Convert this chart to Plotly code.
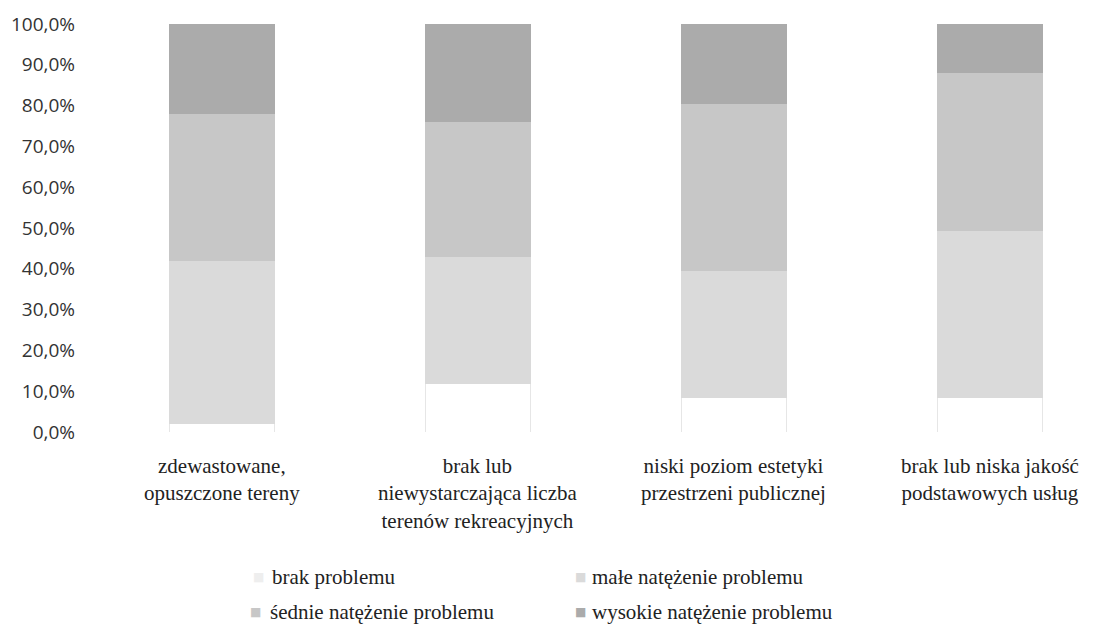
import plotly.graph_objects as go

# Problem categories (x axis) and share of answers per severity level
categories = [
    "zdewastowane,<br>opuszczone tereny",
    "brak lub<br>niewystarczająca liczba<br>terenów rekreacyjnych",
    "niski poziom estetyki<br>przestrzeni publicznej",
    "brak lub niska jakość<br>podstawowych usług",
]
series_names = [
    "brak problemu",
    "małe natężenie problemu",
    "śednie natężenie problemu",
    "wysokie natężenie problemu",
]
brak = [0.02, 0.12, 0.085, 0.085]
male = [0.40, 0.31, 0.31, 0.41]
srednie = [0.36, 0.33, 0.41, 0.385]
wysokie = [0.22, 0.24, 0.195, 0.12]

series_values = [brak, male, srednie, wysokie]
series_colors = ["#ffffff", "#dadada", "#c7c7c7", "#ababab"]
series_lines = ["#e6e6e6", "#dadada", "#c7c7c7", "#ababab"]
key_colors = ["#eeeeee", "#dadada", "#c7c7c7", "#ababab"]

SERIF = "Liberation Serif"
SANS = "Open Sans"

# plot area in pixels (1100 x 632 page)
PL, PR, PT, PB = 94, 1100, 24, 432


def px_to_paper(px, py):
    return (px - PL) / (PR - PL), (PB - py) / (PB - PT)


x_pos = list(range(len(categories)))

fig = go.Figure()
for name, vals, col, lcol in zip(series_names, series_values, series_colors, series_lines):
    fig.add_trace(go.Bar(
        x=x_pos, y=vals, name=name, width=0.41, showlegend=False,
        marker=dict(color=col, line=dict(color=lcol, width=1)),
    ))

# category labels under each bar, placed on the x axis scale
for xp, label in zip(x_pos, categories):
    fig.add_annotation(
        x=xp, xref="x", y=px_to_paper(0, 452)[1], yref="paper",
        xanchor="center", yanchor="top", align="center",
        text=label, showarrow=False,
        font=dict(family=SERIF, size=21, color="#222"),
    )

# two-row key: (marker x, text x, row y) in page pixels
key_slots = [(258, 270, 577), (580, 590, 577), (255, 268, 612), (580, 590, 612)]
for name, kc, (mx, tx, ry) in zip(series_names, key_colors, key_slots):
    mxp, ryp = px_to_paper(mx, ry)
    fig.add_annotation(
        x=mxp, y=ryp, xref="paper", yref="paper",
        xanchor="center", yanchor="middle", text="■", showarrow=False,
        font=dict(family="DejaVu Sans", size=12, color=kc),
    )
    txp, _ = px_to_paper(tx, ry)
    fig.add_annotation(
        x=txp, y=ryp, xref="paper", yref="paper",
        xanchor="left", yanchor="middle", text=name, showarrow=False,
        font=dict(family=SERIF, size=21, color="#222"),
    )

fig.update_layout(
    barmode="stack",
    width=1100, height=632,
    margin=dict(l=PL, r=1100 - PR, t=PT, b=632 - PB, autoexpand=False),
    paper_bgcolor="white", plot_bgcolor="white",
    separators=", ",
    showlegend=False,
    xaxis=dict(
        tickmode="array", tickvals=x_pos, showticklabels=False,
        range=[-0.5, 3.43],
        showgrid=False, zeroline=False, showline=False, ticks="",
    ),
    yaxis=dict(
        range=[0, 1.0], tickmode="array",
        tickvals=[i / 10 for i in range(11)],
        tickformat=".1%",
        showgrid=False, zeroline=False, showline=False, ticks="",
        ticklabelstandoff=18,
        tickfont=dict(family=SANS, size=19, color="#333"),
    ),
)

fig.write_html("out.html")
